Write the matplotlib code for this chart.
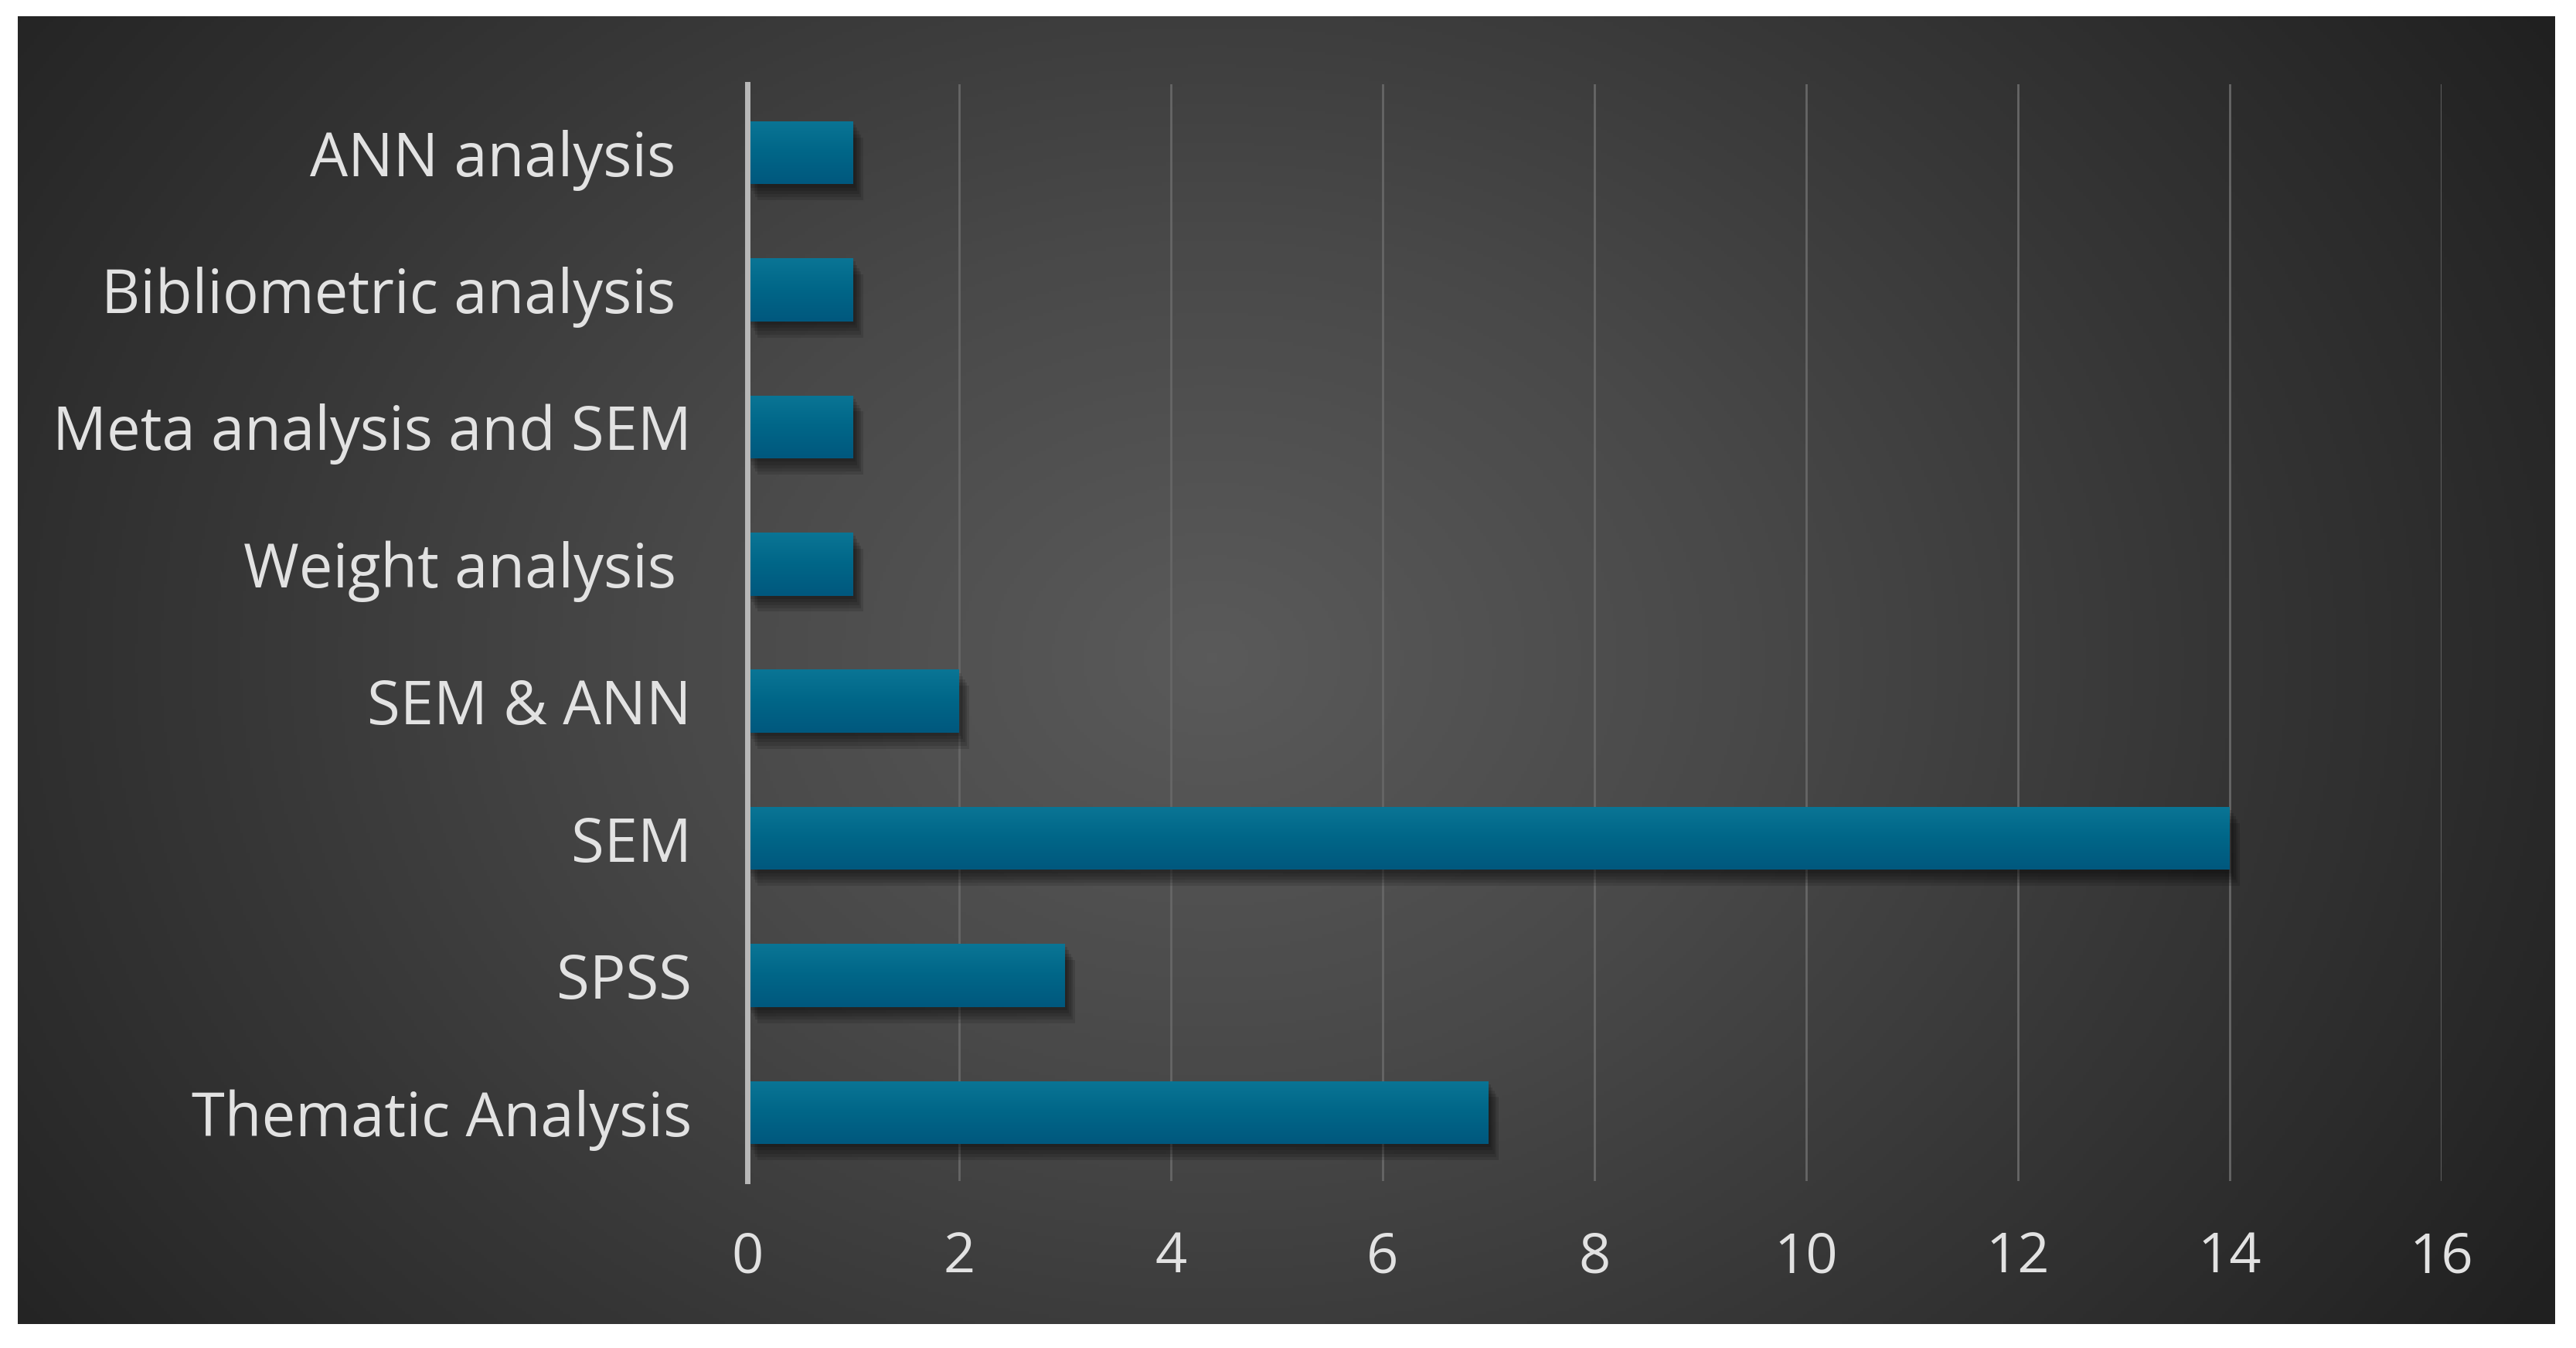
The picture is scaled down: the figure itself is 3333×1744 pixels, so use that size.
import numpy as np
import matplotlib
matplotlib.use("Agg")
import matplotlib.pyplot as plt
import matplotlib.patheffects as pe
from matplotlib.colors import LinearSegmentedColormap

categories = ["Thematic Analysis", "SPSS", "SEM", "SEM & ANN", "Weight analysis ",
              "Meta analysis and SEM", "Bibliometric analysis ", "ANN analysis "]
values = [7, 3, 14, 2, 1, 1, 1, 1]
xticks = [0, 2, 4, 6, 8, 10, 12, 14, 16]

plt.rcParams['font.family'] = ['Open Sans', 'DejaVu Sans']

W, H = 3333, 1744
fig = plt.figure(figsize=(W / 100, H / 100), dpi=100, facecolor="white")

# dark panel with radial gradient
px0, py0, px1, py1 = 23, 21, 3305, 1713
bg = fig.add_axes([px0 / W, 1 - py1 / H, (px1 - px0) / W, (py1 - py0) / H])
bg.set_axis_off()
ny, nx = 400, 800
yy, xx = np.mgrid[0:ny, 0:nx]
cx, cy = nx * 0.47, ny * 0.49
r = np.sqrt(((xx - cx) / (nx * 0.62)) ** 2 + ((yy - cy) / (ny * 0.95)) ** 2)
r = np.clip(r, 0, 1)
bgcmap = LinearSegmentedColormap.from_list("bg", ["#5a5a5a", "#494949", "#343434", "#202020"])
bg.imshow(r, cmap=bgcmap, aspect="auto", extent=[0, 1, 0, 1], vmin=0, vmax=1)
bg.set_xlim(0, 1)
bg.set_ylim(0, 1)

# main axes
ax = fig.add_axes([967 / W, 1 - 1528 / H, (3159 - 967) / W, (1528 - 109) / H])
ax.set_facecolor("none")
y = np.arange(len(categories))
shadow = [pe.SimplePatchShadow(offset=(o * 0.6, -o), shadow_rgbFace="black", alpha=0.12)
          for o in (3, 6, 9, 12, 15)]
bars = ax.barh(y, values, height=0.46, color="#00658a", zorder=3,
               path_effects=shadow + [pe.Normal()])

barcmap = LinearSegmentedColormap.from_list("bar", ["#0a7595", "#006688", "#00587e"])
grad = np.linspace(0, 1, 64).reshape(-1, 1)
for b in bars:
    bb = b.get_bbox()
    im = ax.imshow(grad, cmap=barcmap, aspect="auto", zorder=4,
                   extent=[bb.x0, bb.x1, bb.y0, bb.y1], origin="upper")
    im.set_clip_path(b)

ax.set_xlim(0, 16)
ax.set_ylim(-0.5, len(categories) - 0.5)
ax.set_xticks(xticks)
ax.set_xticklabels([str(t) for t in xticks])
ax.set_yticks(y)
ax.set_yticklabels(categories)
ax.tick_params(axis="x", length=0, pad=46, labelsize=52, labelcolor="#e2e2e2")
ax.tick_params(axis="y", length=0, pad=52, labelsize=56, labelcolor="#e2e2e2")
ax.grid(axis="x", color="#666666", linewidth=2.0, zorder=1)
for s in ["top", "right", "bottom"]:
    ax.spines[s].set_visible(False)
ax.spines["left"].set_color("#b8b8b8")
ax.spines["left"].set_linewidth(5)
ax.spines["left"].set_zorder(5)

fig.savefig("out.png", dpi=100, facecolor="white")
